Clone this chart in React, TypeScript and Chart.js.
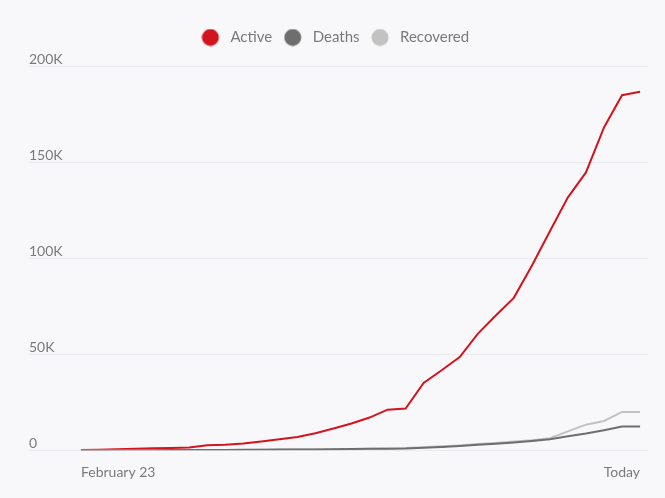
import { useEffect, useRef } from 'react';
import { Chart, registerables } from 'chart.js';

Chart.register(...registerables);

// tick labels shown on the x axis (first and last day)
const xTickLabels = ['February 23', 'Today'];

// daily totals, Feb 23 -> today
const active = [
  150, 250, 500, 700, 1000, 1200, 1400, 2600, 2900, 3500, 4500, 5700, 6900, 8800, 11300, 13900,
  17000, 21100, 21700, 35000, 41600, 48500, 60600, 70100, 79300, 96000, 114000, 131600, 144600,
  168000, 184800, 186600,
];
const deaths = [
  0, 0, 0, 0, 0, 50, 100, 100, 150, 200, 250, 300, 350, 400, 500, 600, 700, 800, 900, 1300, 1700,
  2200, 2800, 3300, 4000, 4800, 5700, 7300, 8700, 10400, 12300, 12300,
];
const recovered = [
  0, 0, 0, 0, 0, 50, 50, 100, 100, 150, 200, 250, 300, 400, 500, 600, 700, 900, 1100, 1600, 2000,
  2500, 3200, 3800, 4500, 5200, 6200, 9800, 13300, 15200, 19900, 19900,
];

const seriesNames = ['Active', 'Deaths', 'Recovered'];
const seriesColors = ['#d2141f', '#6e6e6e', '#c2c2c2'];

const FONT = "Lato, 'Open Sans', sans-serif";

// legend dot with a bit more room before the text
const dot = (color: string) => {
  const c = document.createElement('canvas');
  c.width = 28;
  c.height = 18;
  const g = c.getContext('2d');
  if (g) {
    g.fillStyle = color;
    g.beginPath();
    g.arc(9, 9, 8.5, 0, Math.PI * 2);
    g.fill();
  }
  return c;
};

// extra space between legend and plot
const legendGap = {
  id: 'legendGap',
  beforeInit(chart: any) {
    const fit = chart.legend.fit;
    chart.legend.fit = function () {
      fit.bind(chart.legend)();
      this.height += 11;
    };
  },
};

const CasesChart = () => {
  const chartRef = useRef<HTMLCanvasElement | null>(null);
  const chartInstance = useRef<Chart | null>(null);

  useEffect(() => {
    document.body.style.margin = '0';
    document.body.style.background = '#f8f8fa';
    if (!chartRef.current) return;
    const ctx = chartRef.current.getContext('2d');
    if (!ctx) return;

    if (chartInstance.current) chartInstance.current.destroy();

    const series = [active, deaths, recovered];
    const lastIndex = active.length - 1;

    chartInstance.current = new Chart(ctx, {
      type: 'line',
      data: {
        datasets: series.map((values, i) => ({
          label: seriesNames[i],
          data: values.map((y, x) => ({ x, y })),
          borderColor: seriesColors[i],
          backgroundColor: seriesColors[i],
          borderWidth: 2,
          tension: 0,
          pointRadius: 0,
          pointHoverRadius: 0,
          pointStyle: dot(seriesColors[i]),
          fill: false,
          order: i === 0 ? 2 : i === 1 ? 0 : 1,
        })),
      },
      options: {
        animation: false,
        responsive: true,
        maintainAspectRatio: false,
        layout: { padding: { left: 29, right: 17, top: 12, bottom: 11 } },
        plugins: {
          legend: {
            position: 'top',
            labels: {
              usePointStyle: true,
              padding: 18,
              color: '#7a7a7a',
              font: { family: FONT, size: 15 },
              sort: (a: any, b: any) => a.datasetIndex - b.datasetIndex,
            },
          },
          tooltip: { enabled: false },
        },
        scales: {
          x: {
            type: 'linear',
            min: -2.88,
            max: lastIndex + 0.44,
            grid: { display: false },
            border: { display: false },
            afterBuildTicks: (scale: any) => {
              scale.ticks = [{ value: 0 }, { value: lastIndex }];
            },
            ticks: {
              align: 'inner',
              maxRotation: 0,
              padding: 6,
              color: '#7a7a7a',
              font: { family: FONT, size: 14 },
              callback: (_v: any, index: number) => xTickLabels[index],
            },
          },
          y: {
            min: 0,
            max: 200000,
            border: { display: false },
            grid: { color: '#e9e9ee', drawTicks: false, lineWidth: 1 },
            ticks: {
              stepSize: 50000,
              mirror: true,
              padding: 0,
              labelOffset: -7,
              color: '#7a7a7a',
              font: { family: FONT, size: 14 },
              callback: (v: any) => (v === 0 ? '0' : `${v / 1000}K`),
            },
          },
        },
      },
      plugins: [legendGap],
    } as any);

    return () => {
      if (chartInstance.current) {
        chartInstance.current.destroy();
        chartInstance.current = null;
      }
    };
  }, []);

  return (
    <div style={{ width: '665px', height: '498px', position: 'relative' }}>
      <canvas ref={chartRef} />
    </div>
  );
};

export default function App() {
  return <CasesChart />;
}
